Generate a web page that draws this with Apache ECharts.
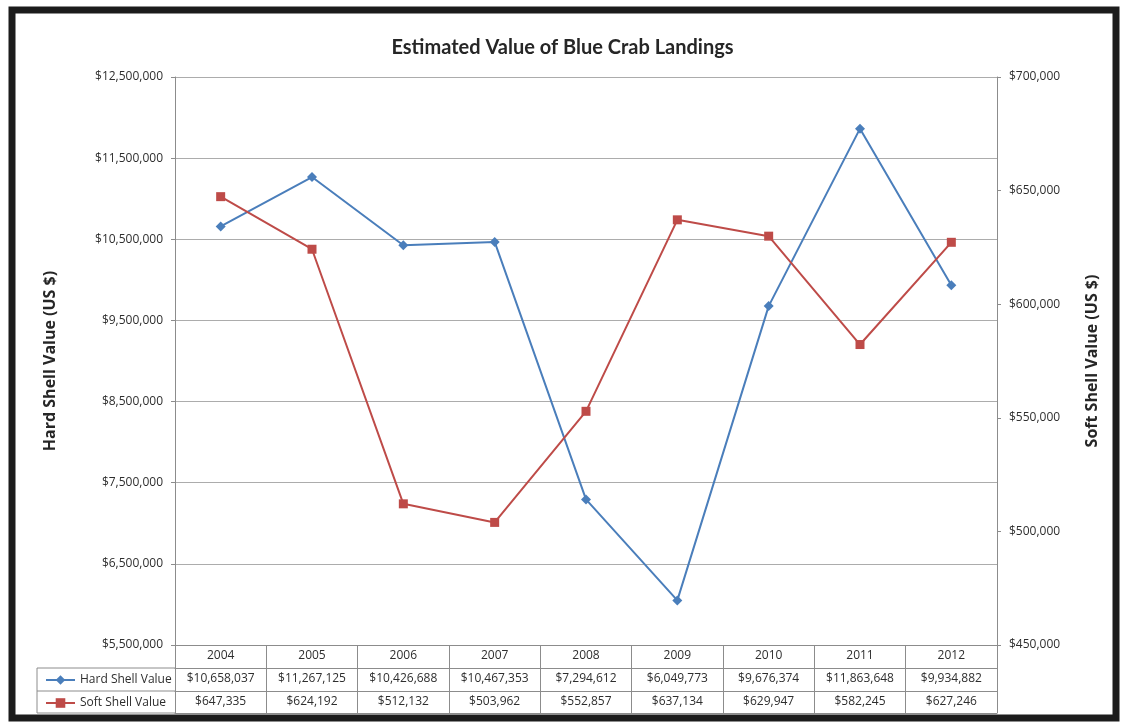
<!DOCTYPE html>
<html>
<head>
<meta charset="utf-8">
<title>Estimated Value of Blue Crab Landings</title>
<script src="https://cdn.jsdelivr.net/npm/echarts@6/dist/echarts.min.js"></script>
<style>
  html, body { margin: 0; padding: 0; background: #ffffff; }
  #chart { width: 1125px; height: 725px; }
</style>
</head>
<body>
<div id="chart"></div>
<script>
// Landing years and estimated dollar values for each shell type
const years = ['2004', '2005', '2006', '2007', '2008', '2009', '2010', '2011', '2012'];
const hardShellValues = [10658037, 11267125, 10426688, 10467353, 7294612, 6049773, 9676374, 11863648, 9934882];
const softShellValues = [647335, 624192, 512132, 503962, 552857, 637134, 629947, 582245, 627246];

// Axis ranges and steps
const hardAxis = { min: 5500000, max: 12500000, step: 1000000 };
const softAxis = { min: 450000, max: 700000, step: 50000 };

const FONT = 'Open Sans';
const TEXT = '#2e2e2e';
const RULE = '#8c8c8c';

function dollars(v) {
  return '$' + String(Math.round(v)).replace(/\B(?=(\d{3})+(?!\d))/g, ',');
}

const chart = echarts.init(document.getElementById('chart'), null, { renderer: 'canvas' });

// Data table rows sit under the plot as extra category axes
function tableAxis(offset, values) {
  return {
    type: 'category',
    data: years,
    position: 'bottom',
    offset: offset,
    axisLine: { show: true, lineStyle: { color: RULE, width: 1 } },
    axisTick: { show: false },
    axisLabel: {
      show: !!values,
      interval: 0,
      margin: 11,
      verticalAlign: 'middle',
      fontFamily: FONT,
      fontSize: 12,
      color: TEXT,
      formatter: function (v, i) { return values ? dollars(values[i]) : ''; }
    },
    splitLine: { show: false }
  };
}

const option = {
  backgroundColor: '#ffffff',
  animation: false,
  title: {
    text: 'Estimated Value of Blue Crab Landings',
    left: 'center',
    top: 33,
    textStyle: { fontFamily: 'Lato', fontWeight: 'bold', fontSize: 20, color: '#262626' }
  },
  legend: {
    orient: 'vertical',
    left: 40,
    top: 669,
    itemWidth: 29,
    itemHeight: 12,
    itemGap: 11,
    textStyle: { fontFamily: FONT, fontSize: 12, color: TEXT },
    data: ['Hard Shell Value', 'Soft Shell Value']
  },
  grid: { left: 175, right: 128, top: 77, bottom: 80, containLabel: false },
  xAxis: [
    {
      type: 'category',
      data: years,
      position: 'bottom',
      boundaryGap: true,
      axisLine: { show: true, lineStyle: { color: RULE, width: 1 } },
      axisTick: { show: true, interval: 0, alignWithLabel: false, length: 68, lineStyle: { color: RULE } },
      axisLabel: { interval: 0, margin: 11, verticalAlign: 'middle', fontFamily: FONT, fontSize: 12, color: TEXT },
      splitLine: { show: false }
    },
    tableAxis(23, hardShellValues),
    tableAxis(46, softShellValues),
    tableAxis(68, null)
  ],
  yAxis: [
    {
      type: 'value',
      position: 'left',
      min: hardAxis.min,
      max: hardAxis.max,
      interval: hardAxis.step,
      name: 'Hard Shell Value (US $)',
      nameLocation: 'middle',
      nameRotate: 90,
      nameGap: 117,
      nameTextStyle: { fontFamily: FONT, fontWeight: 'bold', fontSize: 16, color: '#262626' },
      axisLine: { show: true, lineStyle: { color: RULE } },
      axisTick: { show: true, length: 4, lineStyle: { color: RULE } },
      axisLabel: { margin: 12, fontFamily: FONT, fontSize: 12, color: TEXT, formatter: dollars },
      splitLine: { show: true, lineStyle: { color: '#acacac', width: 1 } }
    },
    {
      type: 'value',
      position: 'right',
      min: softAxis.min,
      max: softAxis.max,
      interval: softAxis.step,
      name: 'Soft Shell Value (US $)',
      nameLocation: 'middle',
      nameRotate: 90,
      nameGap: 87,
      nameTextStyle: { fontFamily: FONT, fontWeight: 'bold', fontSize: 16, color: '#262626' },
      axisLine: { show: true, lineStyle: { color: RULE } },
      axisTick: { show: true, length: 4, lineStyle: { color: RULE } },
      axisLabel: { margin: 12, fontFamily: FONT, fontSize: 12, color: TEXT, formatter: dollars },
      splitLine: { show: false }
    }
  ],
  series: [
    {
      name: 'Hard Shell Value',
      type: 'line',
      xAxisIndex: 0,
      yAxisIndex: 0,
      data: hardShellValues,
      symbol: 'diamond',
      symbolSize: 10,
      lineStyle: { color: '#4a7ebb', width: 2 },
      itemStyle: { color: '#4a7ebb' }
    },
    {
      name: 'Soft Shell Value',
      type: 'line',
      xAxisIndex: 0,
      yAxisIndex: 1,
      data: softShellValues,
      symbol: 'rect',
      symbolSize: 9,
      lineStyle: { color: '#be4b48', width: 2 },
      itemStyle: { color: '#be4b48' }
    }
  ],
  graphic: [
    // outer frame
    {
      type: 'rect',
      shape: { x: 12, y: 10, width: 1104, height: 708 },
      style: { fill: 'none', stroke: '#1c1c1c', lineWidth: 7 },
      silent: true
    },
    // row-header column of the data table
    {
      type: 'polyline',
      shape: { points: [[175, 668], [37, 668], [37, 713], [175, 713]] },
      style: { fill: 'none', stroke: RULE, lineWidth: 1 },
      silent: true
    },
    {
      type: 'line',
      shape: { x1: 37, y1: 691, x2: 175, y2: 691 },
      style: { stroke: RULE, lineWidth: 1 },
      silent: true
    }
  ]
};

chart.setOption(option);
</script>
</body>
</html>
